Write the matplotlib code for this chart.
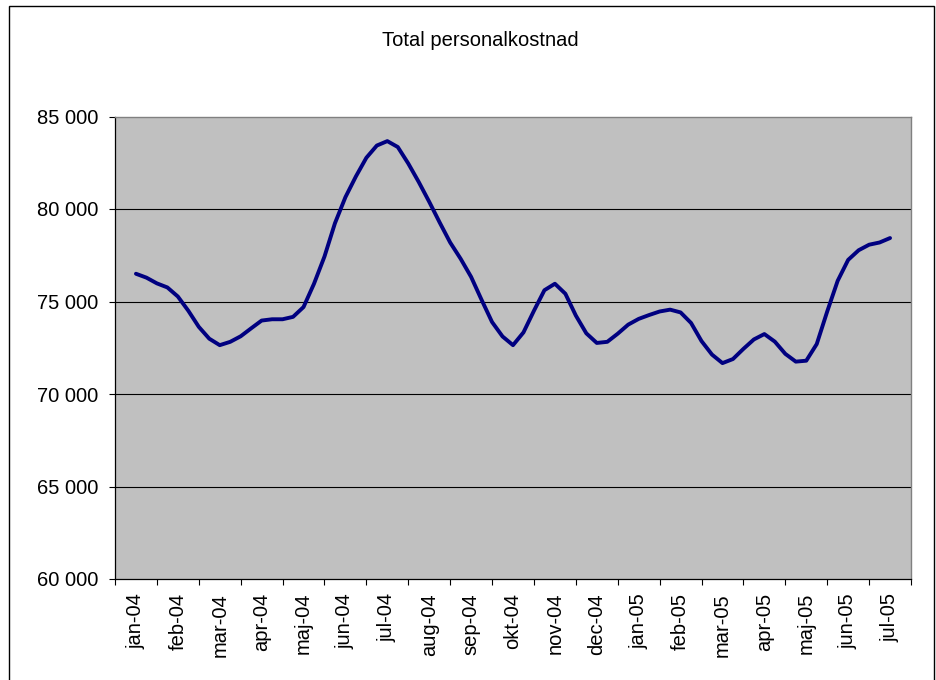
import numpy as np
import matplotlib
matplotlib.use("Agg")
import matplotlib.pyplot as plt
from matplotlib.patches import Rectangle
from matplotlib.ticker import FuncFormatter, FixedLocator

plt.rcParams["font.family"] = ["Liberation Sans", "DejaVu Sans"]

# Månadsetiketter på x-axeln
manader = ["jan-04", "feb-04", "mar-04", "apr-04", "maj-04", "jun-04", "jul-04",
           "aug-04", "sep-04", "okt-04", "nov-04", "dec-04", "jan-05", "feb-05",
           "mar-05", "apr-05", "maj-05", "jun-05", "jul-05"]

# Personalkostnad, ungefär fyra värden per månad
kostnad = [76500, 76290, 75980, 75760, 75270, 74500, 73630, 72990, 72640, 72820,
           73120, 73550, 73970, 74040, 74040, 74170, 74700, 75960, 77430, 79230,
           80640, 81760, 82770, 83430, 83670, 83350, 82460, 81460, 80390, 79270,
           78190, 77310, 76330, 75090, 73890, 73110, 72640, 73330, 74500, 75610,
           75960, 75420, 74240, 73280, 72760, 72820, 73260, 73750, 74060, 74270,
           74460, 74560, 74410, 73840, 72860, 72130, 71670, 71890, 72440, 72950,
           73240, 72830, 72170, 71750, 71800, 72700, 74460, 76120, 77250, 77770,
           78070, 78190, 78430]

y_ticks = [60000, 65000, 70000, 75000, 80000, 85000]

W, H = 936, 680
fig = plt.figure(figsize=(W / 100, H / 100), dpi=100)
fig.patch.set_facecolor("white")

# Ram runt hela diagrammet
fig.patches.append(Rectangle((9 / W, -0.01), (934 - 9) / W, 1 - 6 / H + 0.01,
                             transform=fig.transFigure, fill=False,
                             edgecolor="black", linewidth=1))

ax = fig.add_axes([115 / W, 1 - 579 / H, (911 - 115) / W, (579 - 116.5) / H])
ax.set_facecolor("#C0C0C0")

x = np.linspace(0, len(manader) - 1, len(kostnad))
ax.plot(x, kostnad, color="#000080", linewidth=2.8, solid_joinstyle="round",
        solid_capstyle="round", zorder=3)

ax.set_xlim(-0.5, len(manader) - 0.5)
ax.set_ylim(60000, 85000)

# Stödlinjer
for v in y_ticks[1:-1]:
    ax.axhline(v, color="black", linewidth=0.8, zorder=1)

ax.set_yticks(y_ticks)
ax.yaxis.set_major_formatter(FuncFormatter(lambda v, p: f"{v:,.0f}".replace(",", " ")))
ax.tick_params(axis="y", direction="out", length=4, width=0.8, pad=8,
               labelsize=14.5, color="black")

# Kategoriaxel: streck mellan månaderna, etiketter i mitten
ax.xaxis.set_major_locator(FixedLocator(np.arange(-0.5, len(manader), 1.0)))
ax.xaxis.set_major_formatter(FuncFormatter(lambda v, p: ""))
ax.xaxis.set_minor_locator(FixedLocator(np.arange(len(manader))))
ax.set_xticklabels(manader, minor=True, rotation=90)
ax.tick_params(axis="x", which="major", direction="out", length=4, width=0.8,
               color="black")
ax.tick_params(axis="x", which="minor", length=0, pad=10, labelsize=14.5)
for lbl in ax.get_xticklabels(minor=True):
    lbl.set_verticalalignment("top")

for side in ["left", "bottom"]:
    ax.spines[side].set_color("black")
    ax.spines[side].set_linewidth(0.9)
for side in ["top", "right"]:
    ax.spines[side].set_color("#808080")
    ax.spines[side].set_linewidth(1.0)

fig.text(480 / W, 1 - 40 / H, "Total personalkostnad", ha="center",
         va="center", fontsize=14.5)

fig.savefig("out.png", dpi=100)
